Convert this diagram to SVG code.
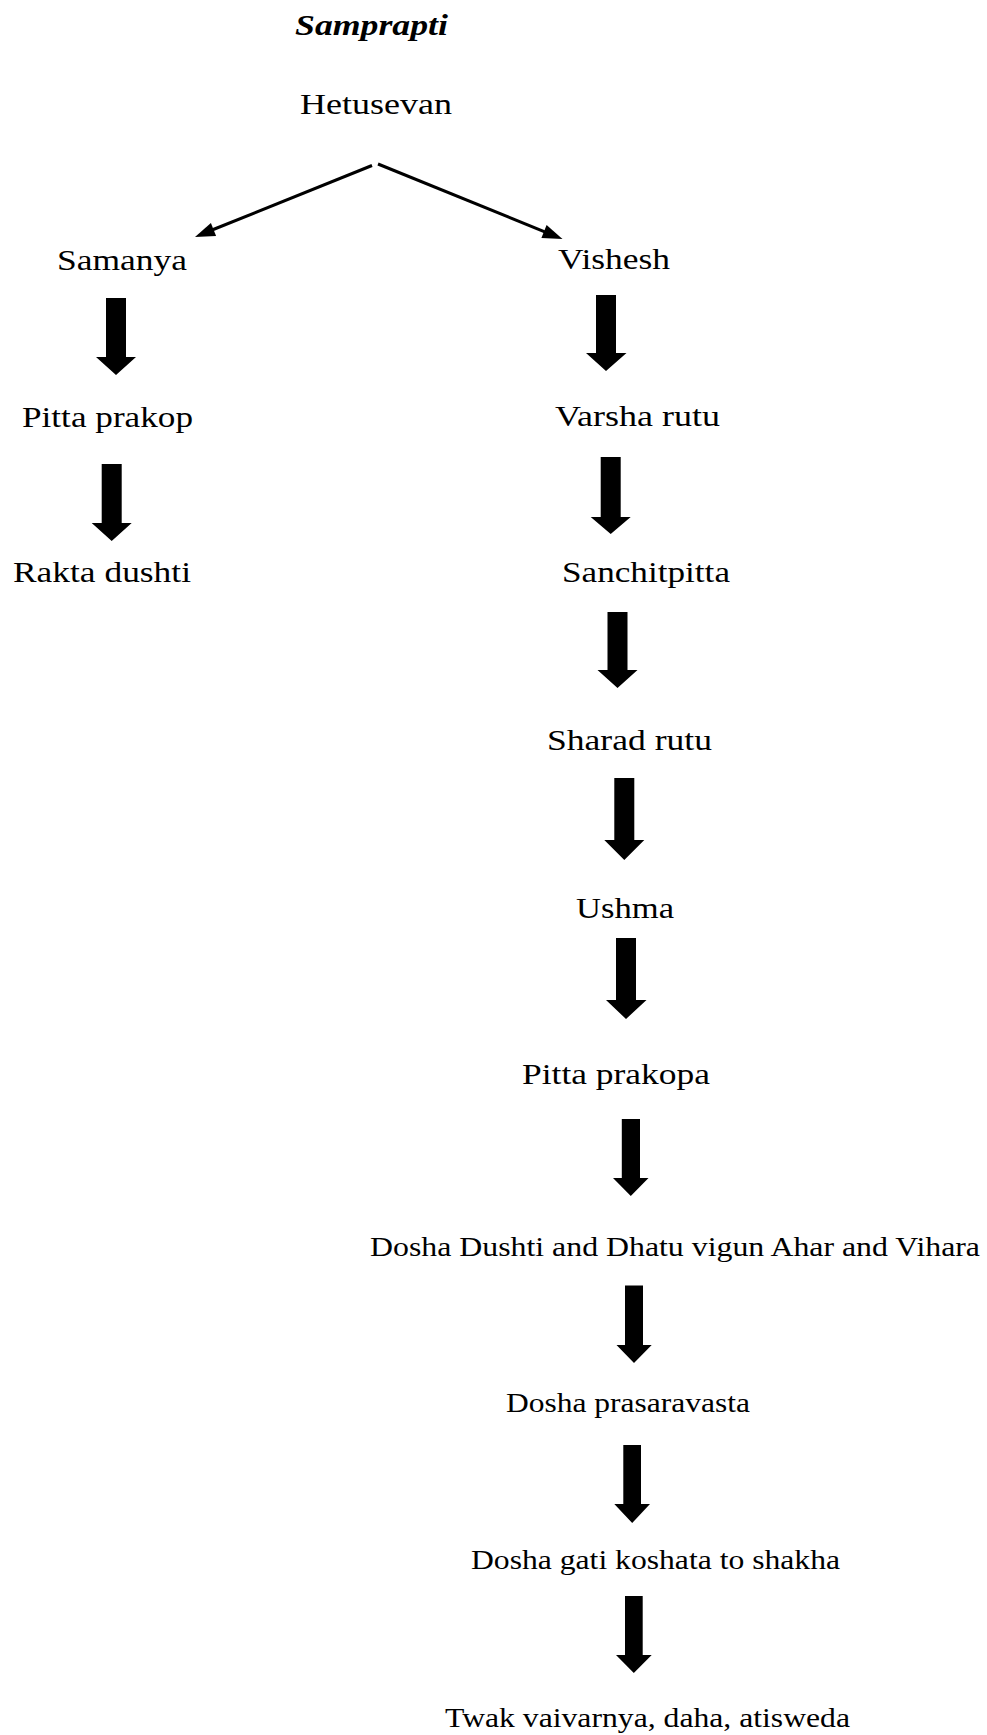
<svg xmlns="http://www.w3.org/2000/svg" width="987" height="1735" viewBox="0 0 987 1735">
<style>
text{font-family:"Liberation Serif","Times New Roman",serif;fill:#000;}
.a{font-size:30px;}
.b{font-size:27px;}
.t{font-size:30px;font-weight:bold;font-style:italic;}
.ln{stroke:#000;stroke-width:3;fill:none;}
.blk{fill:#000;}
</style>
<rect width="987" height="1735" fill="#fff"/>
<g id="title"><text class="t" x="295" y="35" textLength="153" lengthAdjust="spacingAndGlyphs">Samprapti</text></g>
<g id="n-hetusevan"><text class="a" x="300" y="114" textLength="152" lengthAdjust="spacingAndGlyphs">Hetusevan</text></g>
<g id="n-samanya"><text class="a" x="57" y="270" textLength="130" lengthAdjust="spacingAndGlyphs">Samanya</text></g>
<g id="n-vishesh"><text class="a" x="558" y="269" textLength="112" lengthAdjust="spacingAndGlyphs">Vishesh</text></g>
<g id="n-pitta-prakop"><text class="a" x="22" y="427" textLength="171" lengthAdjust="spacingAndGlyphs">Pitta prakop</text></g>
<g id="n-rakta-dushti"><text class="a" x="13" y="582" textLength="178" lengthAdjust="spacingAndGlyphs">Rakta dushti</text></g>
<g id="n-varsha-rutu"><text class="a" x="555" y="426" textLength="165" lengthAdjust="spacingAndGlyphs">Varsha rutu</text></g>
<g id="n-sanchitpitta"><text class="a" x="562" y="582" textLength="168" lengthAdjust="spacingAndGlyphs">Sanchitpitta</text></g>
<g id="n-sharad-rutu"><text class="a" x="547" y="750" textLength="165" lengthAdjust="spacingAndGlyphs">Sharad rutu</text></g>
<g id="n-ushma"><text class="a" x="576" y="918" textLength="98" lengthAdjust="spacingAndGlyphs">Ushma</text></g>
<g id="n-pitta-prakopa"><text class="a" x="522" y="1084" textLength="188" lengthAdjust="spacingAndGlyphs">Pitta prakopa</text></g>
<g id="n-dosha-dushti"><text class="b" x="370" y="1256" textLength="610" lengthAdjust="spacingAndGlyphs">Dosha Dushti and Dhatu vigun Ahar and Vihara</text></g>
<g id="n-dosha-prasaravasta"><text class="b" x="506" y="1412" textLength="244" lengthAdjust="spacingAndGlyphs">Dosha prasaravasta</text></g>
<g id="n-dosha-gati"><text class="b" x="471" y="1569" textLength="369" lengthAdjust="spacingAndGlyphs">Dosha gati koshata to shakha</text></g>
<g id="n-twak"><text class="b" x="445" y="1727" textLength="405" lengthAdjust="spacingAndGlyphs">Twak vaivarnya, daha, atisweda</text></g>
<g id="connectors">
<line class="ln" x1="372" y1="165.5" x2="212" y2="230"/>
<polygon class="blk" points="195,237 216.1,236 210.9,223"/>
<line class="ln" x1="378" y1="164" x2="546" y2="232.3"/>
<polygon class="blk" points="562.5,239 546.6,225 541.4,238"/>
<polygon class="blk" points="106,298 126,298 126,357 136,357 116,375 96,357 106,357"/>
<polygon class="blk" points="101.7,464 121.7,464 121.7,523 131.7,523 111.7,541 91.7,523 101.7,523"/>
<polygon class="blk" points="596,295 616,295 616,353 626.5,353 606,371 586,353 596,353"/>
<polygon class="blk" points="600.7,457 620.7,457 620.7,517 630.7,517 610.7,534 590.7,517 600.7,517"/>
<polygon class="blk" points="607.5,612 627.5,612 627.5,670 637.5,670 617.5,688 597.5,670 607.5,670"/>
<polygon class="blk" points="614.3,778 634.3,778 634.3,840 644.3,840 624.3,860 604.3,840 614.3,840"/>
<polygon class="blk" points="616,938 636,938 636,1000 646.5,1000 626,1019 606,1000 616,1000"/>
<polygon class="blk" points="621.8,1119 640,1119 640,1178 648.5,1178 630.8,1196 613,1178 621.8,1178"/>
<polygon class="blk" points="625,1285.5 643,1285.5 643,1345 651.7,1345 634,1363 616.5,1345 625,1345"/>
<polygon class="blk" points="623.3,1445 641,1445 641,1504 650,1504 632.2,1523 614.3,1504 623.3,1504"/>
<polygon class="blk" points="625,1596 642.7,1596 642.7,1655 651.7,1655 633.8,1673 616,1655 625,1655"/>
</g>
</svg>
